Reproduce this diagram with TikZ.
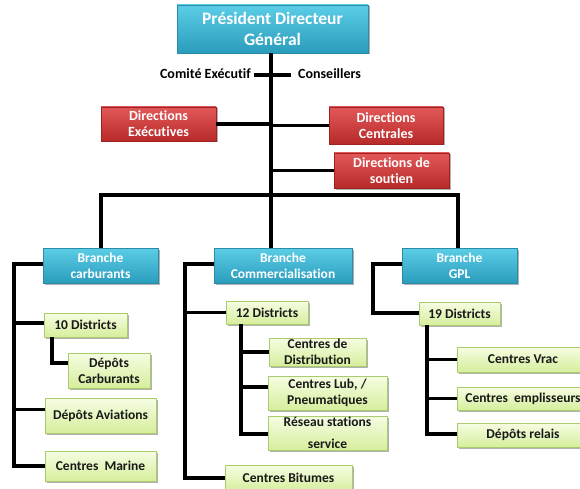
\documentclass[tikz,border=0pt]{standalone}
\usepackage{fontspec}
\setmainfont{Carlito}[Ligatures=CommonOff]
\usetikzlibrary{shadows}

\definecolor{cyanTop}{HTML}{5CCDE6}
\definecolor{cyanBot}{HTML}{2A9DBD}
\definecolor{cyanEdge}{HTML}{2A8CA6}
\definecolor{redTop}{HTML}{E25858}
\definecolor{redBot}{HTML}{B82A2A}
\definecolor{redEdge}{HTML}{9E2222}
\definecolor{greenTop}{HTML}{F6FDE3}
\definecolor{greenBot}{HTML}{D6EE9C}
\definecolor{greenEdge}{HTML}{AACB6E}

\tikzset{
  boxbase/.style={rectangle, inner sep=1pt, align=center, font=\bfseries\fontsize{13.5}{16}\selectfont,
    drop shadow={shadow xshift=1.5pt, shadow yshift=-1.5pt, opacity=0.3, fill=black}},
  bluebox/.style={boxbase, draw=cyanEdge, line width=0.6pt, top color=cyanTop, bottom color=cyanBot, text=white},
  redbox/.style={boxbase, draw=redEdge, line width=0.6pt, top color=redTop, bottom color=redBot, text=white,
    font=\bfseries\fontsize{14}{16}\selectfont},
  greenbox/.style={boxbase, draw=greenEdge, line width=0.6pt, top color=greenTop, bottom color=greenBot, text=black!90},
  link/.style={draw=black, line width=3.8pt, line join=miter},
  side/.style={font=\bfseries\fontsize{14}{16}\selectfont, inner sep=0pt}
}

\begin{document}
\begin{tikzpicture}[x=1pt, y=-1pt]
\useasboundingbox (0,0) rectangle (580,489);
\clip (0,0) rectangle (580,489);

% top of the hierarchy
\node[bluebox, minimum width=191, minimum height=48, font=\bfseries\fontsize{17.5}{21}\selectfont]
  (pdg) at (272.5,29) {Président Directeur\\Général};
\node[side, anchor=east] (ce) at (251,74) {Comité Exécutif};
\node[side, anchor=west] (cons) at (298,74) {Conseillers};

% directions
\node[redbox, minimum width=115, minimum height=34] (dexe) at (158.5,124) {Directions\\Exécutives};
\node[redbox, minimum width=114, minimum height=37] (dcen) at (386,125.5) {Directions\\Centrales};
\node[redbox, minimum width=115, minimum height=35] (dsou) at (391.5,170.5) {Directions de\\soutien};

% branches
\node[bluebox, minimum width=115, minimum height=35] (bcarb) at (100.5,265.5) {Branche\\carburants};
\node[bluebox, minimum width=138, minimum height=35] (bcom) at (283,265.5) {Branche\\Commercialisation};
\node[bluebox, minimum width=115, minimum height=35] (bgpl) at (459.5,265.5) {Branche\\GPL};

% carburants
\node[greenbox, minimum width=83, minimum height=24] (d10) at (85.5,325) {10 Districts};
\node[greenbox, minimum width=82, minimum height=35] (dcarb) at (109,370.5) {Dépôts\\Carburants};
\node[greenbox, minimum width=111, minimum height=35] (davi) at (100.5,415.5) {Dépôts Aviations};
\node[greenbox, minimum width=111, minimum height=30] (cmar) at (100.5,466) {Centres~~Marine};

% commercialisation
\node[greenbox, minimum width=82, minimum height=23] (d12) at (267,312.5) {12 Districts};
\node[greenbox, minimum width=97, minimum height=28] (cdis) at (317.5,352) {Centres de\\Distribution};
\node[greenbox, minimum width=119, minimum height=34] (club) at (327.5,393) {Centres Lub, /\\Pneumatiques};
\node[greenbox, minimum width=119, minimum height=34, font=\bfseries\fontsize{13.5}{22}\selectfont]
  (rss) at (327.5,433) {Réseau stations\\service};
\node[greenbox, minimum width=127, minimum height=26] (cbit) at (288.5,478) {Centres Bitumes};

% GPL
\node[greenbox, minimum width=81, minimum height=23] (d19) at (459.5,313.5) {19 Districts};
\node[greenbox, minimum width=132, minimum height=25] (cvrac) at (523,359.5) {Centres Vrac};
\node[greenbox, minimum width=132, minimum height=23] (cemp) at (523,398.5) {Centres~~emplisseurs};
\node[greenbox, minimum width=132, minimum height=24] (drel) at (523,435) {Dépôts relais};

% junction points of the main lines
\coordinate (busL) at (101,195);
\coordinate (busC) at (271,195);
\coordinate (busR) at (458,195);
\coordinate (ceL) at (254,75);
\coordinate (ceR) at (291,75);
\coordinate (railA) at (14,466);
\coordinate (railB) at (185,478);
\coordinate (railC) at (373,313);
\coordinate (subA) at (52,363);
\coordinate (subB) at (241,434);
\coordinate (subC) at (427,434);

% trunk and council line
\draw[link] (pdg.south -| busC) -- (busC);
\draw[link] (ceL) -- (ceR);

% directions
\draw[link] (dexe.east) -- (dexe.east -| busC);
\draw[link] (dcen.west) -- (dcen.west -| busC);
\draw[link] (dsou.west) -- (dsou.west -| busC);

% bus to branches
\draw[link] (bcarb.north -| busL) -- (busL) -- (busR) -- (bgpl.north -| busR);
\draw[link] (busC) -- (bcom.north -| busC);

% carburants
\draw[link] ([yshift=1.5pt]bcarb.west) -| (railA) -- (cmar.west);
\draw[link] ([yshift=2pt]d10.west -| railA) -- ([yshift=2pt]d10.west);
\draw[link] ([yshift=6pt]davi.west -| railA) -- ([yshift=6pt]davi.west);
\draw[link] (d10.south -| subA) -- (subA) -- (subA -| dcarb.west);

% commercialisation
\draw[link] ([yshift=1.5pt]bcom.west) -| (railB) -- (cbit.west);
\draw[link] (d12.west -| railB) -- (d12.west);
\draw[link] (d12.south -| subB) -- (subB) -- (subB -| rss.west);
\draw[link] (cdis.west -| subB) -- (cdis.west);
\draw[link] ([yshift=6pt]club.west -| subB) -- ([yshift=6pt]club.west);

% GPL
\draw[link] ([yshift=1.5pt]bgpl.west) -| (railC) -- (railC -| d19.west);
\draw[link] (d19.south -| subC) -- (subC) -- (subC -| drel.west);
\draw[link] (cvrac.west -| subC) -- (cvrac.west);
\draw[link] (cemp.west -| subC) -- (cemp.west);
\end{tikzpicture}
\end{document}
